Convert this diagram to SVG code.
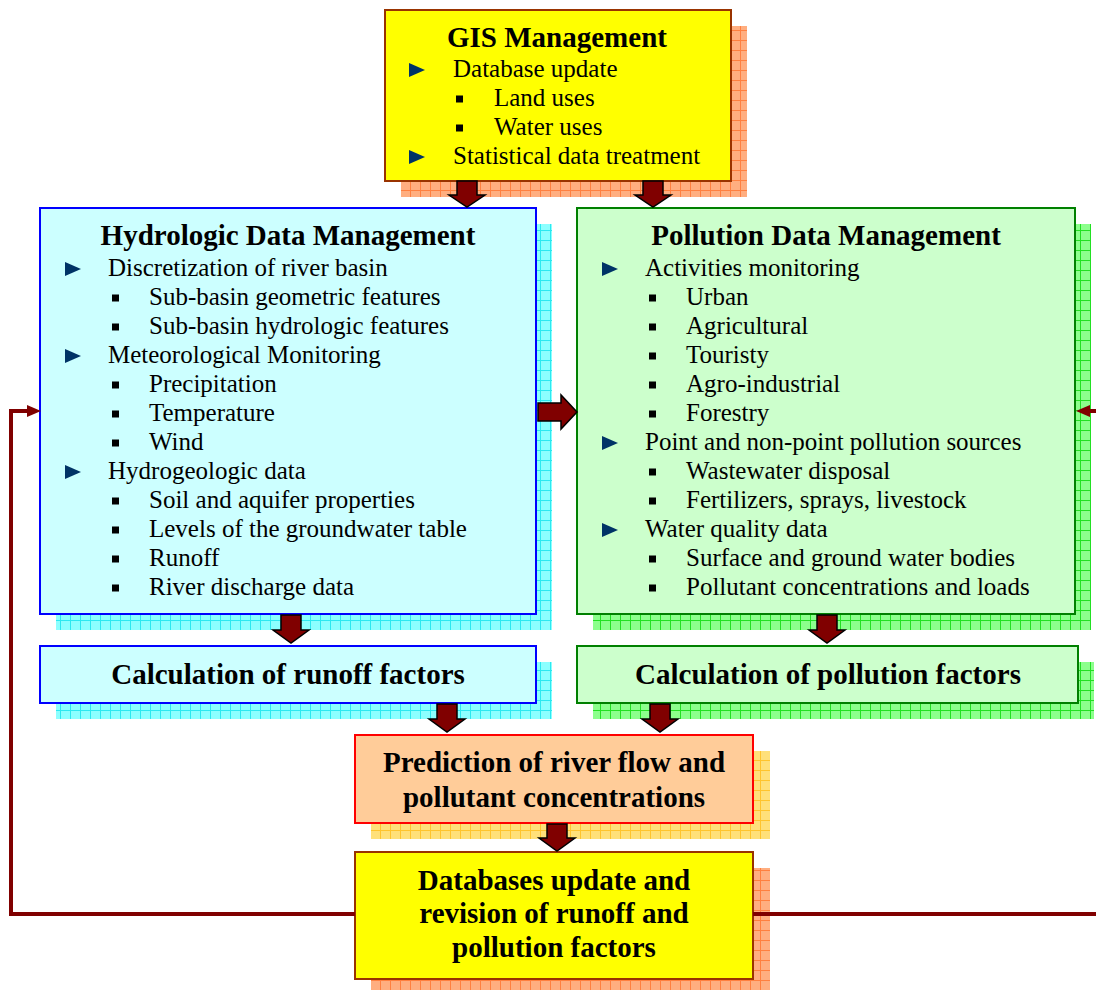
<svg xmlns="http://www.w3.org/2000/svg" width="1096" height="990" viewBox="0 0 1096 990">
<defs>
<pattern id="pCyan" width="10" height="10" patternUnits="userSpaceOnUse">
<rect width="10" height="10" fill="#8CFFFF"/><path d="M0 0.5H10M0.5 0V10" stroke="#2CE8F0" stroke-width="1"/>
</pattern>
<pattern id="pGreen" width="10" height="10" patternUnits="userSpaceOnUse">
<rect width="10" height="10" fill="#8CFF8C"/><path d="M0 0.5H10M0.5 0V10" stroke="#22E022" stroke-width="1"/>
</pattern>
<pattern id="pOrange" width="10" height="10" patternUnits="userSpaceOnUse">
<rect width="10" height="10" fill="#FFAE80"/><path d="M0 0.5H10M0.5 0V10" stroke="#FF8040" stroke-width="1"/>
</pattern>
<pattern id="pYellow" width="10" height="10" patternUnits="userSpaceOnUse">
<rect width="10" height="10" fill="#FFE07A"/><path d="M0 0.5H10M0.5 0V10" stroke="#FFC42E" stroke-width="1"/>
</pattern>
<path id="tri" d="M0 -7L16 0L0 7z" fill="#003366"/>
<rect id="sq" x="0" y="-3.5" width="7" height="7" fill="#000"/>
</defs>
<style>
text{font-family:"Liberation Serif","Times New Roman",serif;fill:#000}
.t{font-size:29px;font-weight:bold;text-anchor:middle}
.b{font-size:25px}
.barrow{fill:#800000;stroke:#000;stroke-width:1.5;stroke-linejoin:miter}
.loop{fill:none;stroke:#800000;stroke-width:4}
</style>
<rect width="1096" height="990" fill="#fff"/>

<g id="gis">
<rect x="401" y="26" width="346" height="171" fill="url(#pOrange)"/>
<rect x="385" y="10" width="346" height="171" fill="#FFFF00" stroke="#993300" stroke-width="2"/>
<text class="t" x="557" y="47">GIS Management</text>
<use href="#tri" x="409" y="70"/><text class="b" x="453" y="77">Database update</text>
<use href="#sq" x="456" y="99"/><text class="b" x="494" y="106">Land uses</text>
<use href="#sq" x="456" y="128"/><text class="b" x="494" y="135">Water uses</text>
<use href="#tri" x="409" y="157"/><text class="b" x="453" y="164">Statistical data treatment</text>
</g>

<g id="hydro">
<rect x="56" y="224" width="496" height="406" fill="url(#pCyan)"/>
<rect x="40" y="208" width="496" height="406" fill="#CCFFFF" stroke="#0000FF" stroke-width="2"/>
<text class="t" x="288" y="245">Hydrologic Data Management</text>
<use href="#tri" x="65" y="269"/><text class="b" x="108" y="276">Discretization of river basin</text>
<use href="#sq" x="112" y="298"/><text class="b" x="149" y="305">Sub-basin geometric  features</text>
<use href="#sq" x="112" y="327"/><text class="b" x="149" y="334">Sub-basin hydrologic features</text>
<use href="#tri" x="65" y="356"/><text class="b" x="108" y="363">Meteorological Monitoring</text>
<use href="#sq" x="112" y="385"/><text class="b" x="149" y="392">Precipitation</text>
<use href="#sq" x="112" y="414"/><text class="b" x="149" y="421">Temperature</text>
<use href="#sq" x="112" y="443"/><text class="b" x="149" y="450">Wind</text>
<use href="#tri" x="65" y="472"/><text class="b" x="108" y="479">Hydrogeologic data</text>
<use href="#sq" x="112" y="501"/><text class="b" x="149" y="508">Soil and aquifer properties</text>
<use href="#sq" x="112" y="530"/><text class="b" x="149" y="537">Levels of the groundwater table</text>
<use href="#sq" x="112" y="559"/><text class="b" x="149" y="566">Runoff</text>
<use href="#sq" x="112" y="588"/><text class="b" x="149" y="595">River discharge data</text>
</g>

<g id="pollution">
<rect x="593" y="224" width="498" height="406" fill="url(#pGreen)"/>
<rect x="577" y="208" width="498" height="406" fill="#CCFFCC" stroke="#008000" stroke-width="2"/>
<text class="t" x="826" y="245">Pollution Data Management</text>
<use href="#tri" x="602" y="269"/><text class="b" x="645" y="276">Activities monitoring</text>
<use href="#sq" x="649" y="298"/><text class="b" x="686" y="305">Urban</text>
<use href="#sq" x="649" y="327"/><text class="b" x="686" y="334">Agricultural</text>
<use href="#sq" x="649" y="356"/><text class="b" x="686" y="363">Touristy</text>
<use href="#sq" x="649" y="385"/><text class="b" x="686" y="392">Agro-industrial</text>
<use href="#sq" x="649" y="414"/><text class="b" x="686" y="421">Forestry</text>
<use href="#tri" x="602" y="443"/><text class="b" x="645" y="450">Point and non-point pollution sources</text>
<use href="#sq" x="649" y="472"/><text class="b" x="686" y="479">Wastewater disposal</text>
<use href="#sq" x="649" y="501"/><text class="b" x="686" y="508">Fertilizers, sprays, livestock</text>
<use href="#tri" x="602" y="530"/><text class="b" x="645" y="537">Water quality data</text>
<use href="#sq" x="649" y="559"/><text class="b" x="686" y="566">Surface and ground water bodies</text>
<use href="#sq" x="649" y="588"/><text class="b" x="686" y="595">Pollutant concentrations and loads</text>
</g>

<g id="runoff">
<rect x="56" y="662" width="496" height="57" fill="url(#pCyan)"/>
<rect x="40" y="646" width="496" height="57" fill="#CCFFFF" stroke="#0000FF" stroke-width="2"/>
<text class="t" x="288" y="684">Calculation of runoff factors</text>
</g>

<g id="pollfactors">
<rect x="593" y="662" width="501" height="57" fill="url(#pGreen)"/>
<rect x="577" y="646" width="501" height="57" fill="#CCFFCC" stroke="#008000" stroke-width="2"/>
<text class="t" x="828" y="684">Calculation of pollution factors</text>
</g>

<g id="prediction">
<rect x="371" y="751" width="399" height="88" fill="url(#pYellow)"/>
<rect x="355" y="735" width="398" height="88" fill="#FFCC99" stroke="#FF0000" stroke-width="2"/>
<text class="t" x="554" y="772">Prediction of river flow and</text>
<text class="t" x="554" y="807">pollutant concentrations</text>
</g>

<g id="databases">
<rect x="371" y="868" width="399" height="122" fill="url(#pOrange)"/>
<rect x="355" y="852" width="398" height="127" fill="#FFFF00" stroke="#993300" stroke-width="2"/>
<text class="t" x="554" y="890">Databases update and</text>
<text class="t" x="554" y="923">revision of runoff and</text>
<text class="t" x="554" y="957">pollution factors</text>
</g>

<g id="connectors">
<polygon class="barrow" points="457,181 477,181 477,195 485,195 467,207 449,195 457,195"/>
<polygon class="barrow" points="643,181 663,181 663,195 671,195 653,207 635,195 643,195"/>
<polygon class="barrow" points="538,403 561,403 561,395 577,412 561,429 561,421 538,421"/>
<polygon class="barrow" points="281,615 301,615 301,630 309,630 291,643 273,630 281,630"/>
<polygon class="barrow" points="817,615 837,615 837,630 845,630 827,643 809,630 817,630"/>
<polygon class="barrow" points="437,704 457,704 457,719 465,719 447,732 429,719 437,719"/>
<polygon class="barrow" points="650,704 670,704 670,719 678,719 660,732 642,719 650,719"/>
<polygon class="barrow" points="547,824 567,824 567,838 575,838 557,851 539,838 547,838"/>
<path class="loop" d="M355 914H11V411H30"/>
<path d="M27 405L41 411L27 417z" fill="#800000"/>
<path class="loop" d="M753 914H1096"/>
<path class="loop" d="M1096 411H1088"/>
<path d="M1090 405L1076 411L1090 417z" fill="#800000"/>
</g>
</svg>
